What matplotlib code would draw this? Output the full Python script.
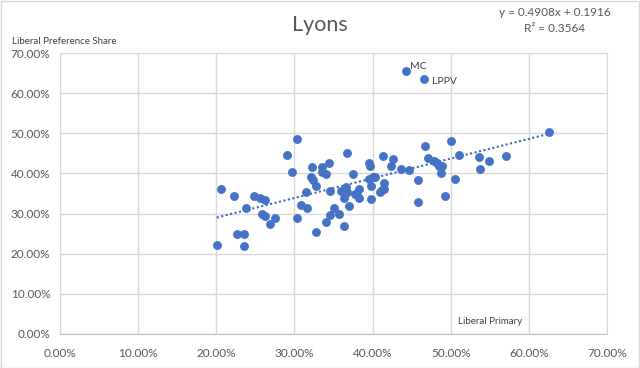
import matplotlib
matplotlib.use("Agg")
import matplotlib.pyplot as plt
import numpy as np
from matplotlib.ticker import PercentFormatter
from matplotlib.patches import Rectangle

# Liberal primary vote (x) vs Liberal preference share (y), per booth
liberal_primary = [
    20.65, 20.06, 22.3, 23.8, 22.6, 23.5, 23.6, 24.8, 25.6, 26.2,
    25.9, 26.2, 27.5, 26.9, 30.3, 29.0, 29.7, 30.3, 31.5, 32.7,
    32.3, 32.1, 32.4, 32.7, 33.5, 33.5, 34.0, 34.4, 30.9, 31.6,
    34.5, 34.1, 34.6, 36.7, 37.5, 35.9, 36.3, 36.6, 36.7, 36.5,
    36.4, 35.1, 35.7, 36.4, 37.0, 37.7, 38.0, 38.3, 38.2, 39.5,
    39.7, 39.6, 40.1, 40.3, 39.8, 39.8, 41.3, 42.6, 42.4, 41.5,
    41.2, 41.0, 41.4, 43.6, 44.7, 45.8, 45.8, 46.7, 47.1, 47.9,
    48.2, 48.5, 48.9, 48.8, 49.3, 50.1, 51.1, 50.6, 53.6, 54.9,
    53.8, 57.1, 62.6, 44.3, 46.6,
]
liberal_pref_share = [
    36.0, 22.1, 34.3, 31.3, 25.0, 24.9, 22.0, 34.4, 33.9, 33.3,
    29.8, 29.5, 28.9, 27.4, 48.6, 44.5, 40.4, 28.8, 35.3, 25.3,
    41.5, 39.1, 38.3, 36.8, 41.5, 40.4, 39.8, 42.5, 32.1, 31.5,
    29.6, 27.8, 35.6, 45.2, 39.8, 35.6, 35.4, 36.6, 35.4, 34.8,
    33.8, 31.3, 30.0, 26.9, 31.9, 34.8, 34.6, 33.8, 36.0, 42.5,
    41.8, 38.7, 39.0, 39.0, 36.8, 33.6, 44.3, 43.6, 41.8, 37.6,
    35.8, 35.4, 36.2, 41.2, 40.8, 38.3, 32.8, 46.8, 43.8, 43.1,
    42.5, 41.9, 41.9, 40.0, 34.4, 48.1, 44.7, 38.5, 44.2, 43.2,
    41.0, 44.3, 50.2, 65.6, 63.6,
]
point_labels = {"MC": (44.3, 65.6), "LPPV": (46.6, 63.6)}

slope = 0.4908
intercept = 0.1916
r_squared = 0.3564

blue = "#4472C4"
grid_col = "#d9d9d9"
text_col = "#595959"
plt.rcParams["font.family"] = ["Lato", "DejaVu Sans"]

x = np.array(liberal_primary) / 100
y = np.array(liberal_pref_share) / 100

fig = plt.figure(figsize=(6.4, 3.68), dpi=100)
ax = fig.add_axes([60 / 640, 1 - 334 / 368, 547 / 640, 281 / 368])

ax.scatter(x, y, s=34, color=blue, edgecolors=blue, linewidths=0.5, zorder=3)

xs = np.array([x.min(), x.max()])
ax.plot(xs, slope * xs + intercept, linestyle=(0, (1, 1.2)),
        color="#3a68bd", linewidth=1.5, zorder=2)

offsets = {"MC": (3, 1), "LPPV": (6, -4)}
for name, (px, py) in point_labels.items():
    ax.annotate(name, (px / 100, py / 100), xytext=offsets[name],
                textcoords="offset points", fontsize=7.5, color="#404040")

ax.set_xlim(0, 0.7)
ax.set_ylim(0, 0.7)
ax.set_xticks(np.arange(0, 0.71, 0.1))
ax.set_yticks(np.arange(0, 0.71, 0.1))
ax.xaxis.set_major_formatter(PercentFormatter(1, decimals=2))
ax.yaxis.set_major_formatter(PercentFormatter(1, decimals=2))
ax.tick_params(length=0, labelsize=8.5, labelcolor=text_col)
ax.tick_params(axis="x", pad=10)
ax.tick_params(axis="y", pad=7)
ax.grid(True, color=grid_col, linewidth=1, zorder=0)
ax.set_axisbelow(True)
for side in ["top", "right", "left"]:
    ax.spines[side].set_color(grid_col)
ax.spines["bottom"].set_color("#bfbfbf")

fig.text(0.5, 1 - 25 / 368, "Lyons", ha="center", va="center",
         fontsize=15.5, color=text_col)
fig.text(555 / 640, 1 - 12 / 368, "y = 0.4908x + 0.1916", ha="center", va="center",
         fontsize=8.5, color=text_col)
fig.text(555 / 640, 1 - 29 / 368, "R² = 0.3564", ha="center", va="center",
         fontsize=8.5, color=text_col)
fig.text(12 / 640, 1 - 42 / 368, "Liberal Preference Share", ha="left", va="center",
         fontsize=7, color="#404040")
fig.text(490 / 640, 1 - 322 / 368, "Liberal Primary", ha="center", va="center",
         fontsize=7, color="#404040")

fig.patches.append(Rectangle((0.5 / 640, 0.5 / 368), 638.5 / 640, 366.5 / 368,
                             transform=fig.transFigure, fill=False,
                             edgecolor=grid_col, linewidth=1))

fig.savefig("out.png", dpi=100)
